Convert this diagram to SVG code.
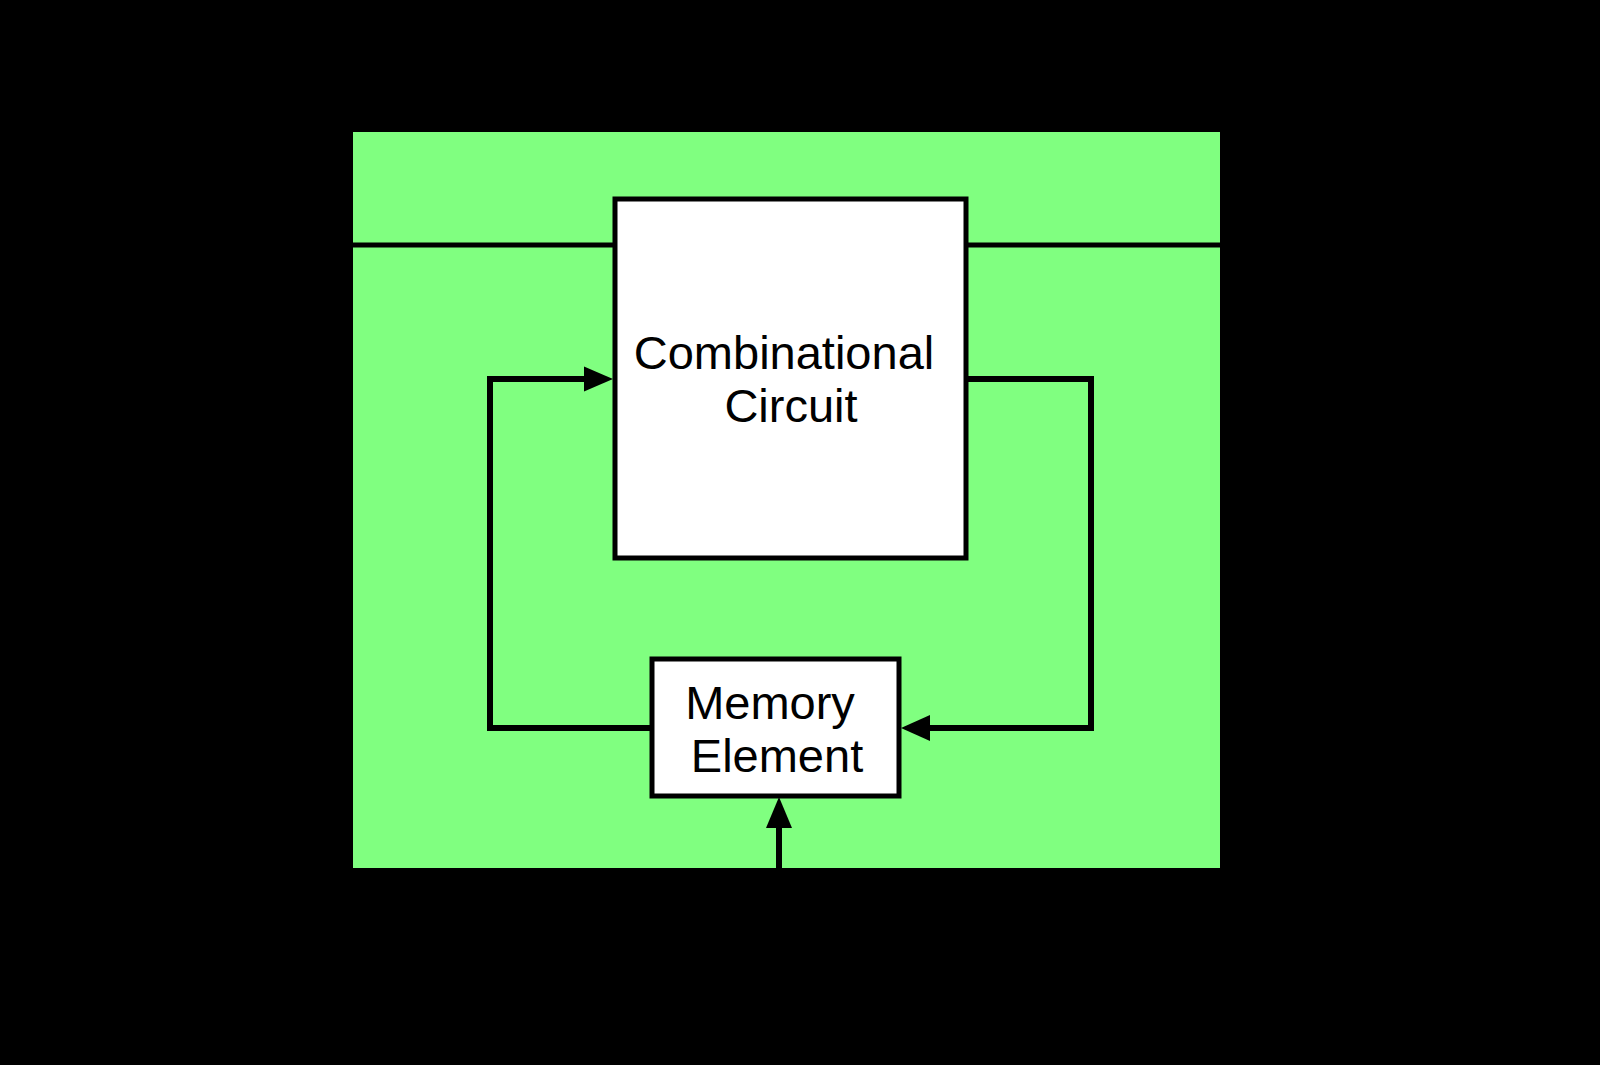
<svg xmlns="http://www.w3.org/2000/svg" width="1600" height="1065" viewBox="0 0 1600 1065">
<style>
.t{font-family:"Liberation Sans",Arial,sans-serif;font-size:47px;fill:#000}
.box{fill:#fff;stroke:#000;stroke-width:5}
.w{fill:none;stroke:#000;stroke-width:5}
.fb{fill:none;stroke:#000;stroke-width:6}
.ah{fill:#000}
</style>
<rect x="0" y="0" width="1600" height="1065" fill="#000"/>
<g id="sequential-circuit">
<rect x="353" y="132" width="867" height="736" fill="#80ff80"/>
<text class="t" x="788" y="77" text-anchor="middle">Sequential Circuit</text>
</g>
<g id="input">
<text class="t" x="214" y="180" text-anchor="middle">INPUT</text>
<text class="t" x="98" y="262">A</text>
<circle cx="268" cy="245" r="17.5" fill="none" stroke="#000" stroke-width="5"/>
</g>
<g id="output">
<text class="t" x="1462" y="180" text-anchor="middle">OUTPUT</text>
<text class="t" x="1394" y="262">A'</text>
<circle cx="1338" cy="245" r="17.5" fill="none" stroke="#000" stroke-width="5"/>
</g>
<g id="clock">
<text class="t" x="776" y="1023" text-anchor="middle">Clock</text>
</g>
<g id="connectors">
<path class="w" d="M285.5,245 H615"/>
<path class="w" d="M966,245 H1320.5"/>
<path class="fb" d="M652,728 H490 V379 H586"/>
<polygon class="ah" points="613,379 584,366.5 584,391.5"/>
<path class="fb" d="M966,379 H1091 V728 H928"/>
<polygon class="ah" points="901,728 930,715 930,741"/>
<path class="fb" d="M779,962 V824"/>
<polygon class="ah" points="779,797 766,828 792,828"/>
</g>
<g id="combinational-circuit">
<rect class="box" x="615" y="199" width="351" height="359"/>
<text class="t" x="784" y="369" text-anchor="middle">Combinational</text>
<text class="t" x="791" y="422" text-anchor="middle">Circuit</text>
</g>
<g id="memory-element">
<rect class="box" x="652" y="659" width="247" height="137"/>
<text class="t" x="770" y="719" text-anchor="middle">Memory</text>
<text class="t" x="777" y="772" text-anchor="middle">Element</text>
</g>
</svg>
